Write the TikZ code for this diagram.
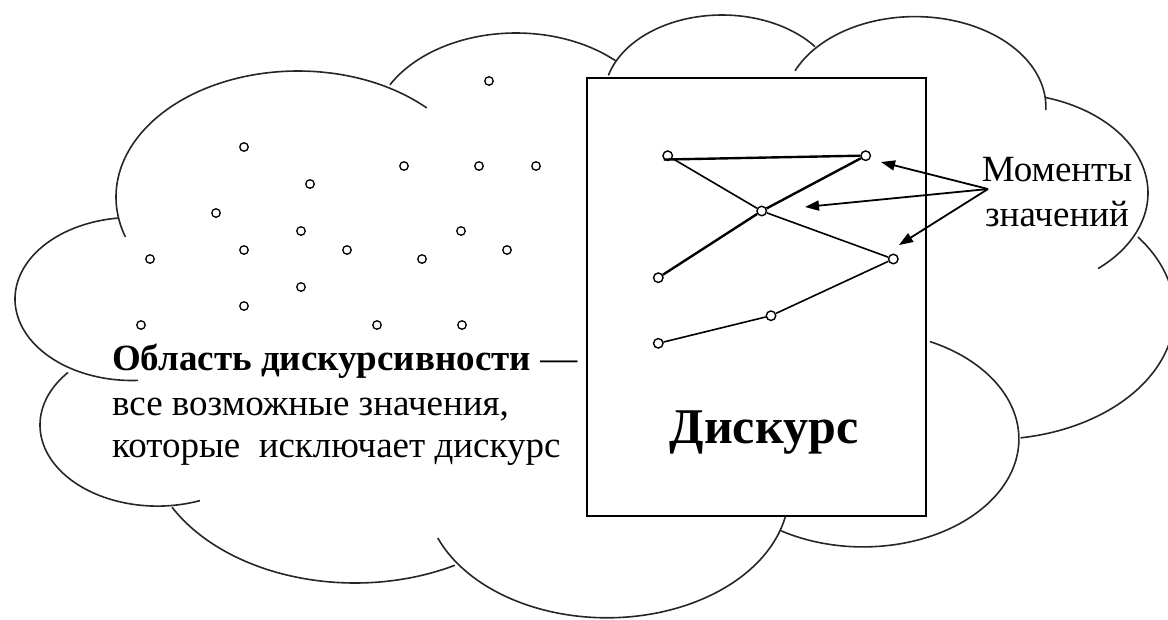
\documentclass[tikz,border=0pt]{standalone}
\usepackage{fontspec}
\setmainfont{Liberation Serif}
\usetikzlibrary{arrows.meta,calc}
\tikzset{
  cloudline/.style={line width=1.6pt, black!85},
  fdot/.style={circle, draw, line width=1.3pt, fill=white, inner sep=0pt, minimum size=8.5pt},
  ddot/.style={circle, draw, line width=1.4pt, fill=white, inner sep=0pt, minimum size=9.5pt},
  dline/.style={line width=1.6pt},
  thickdline/.style={line width=2.4pt},
  marrow/.style={line width=1.8pt, -{Triangle[length=14pt,width=10pt]}},
  lab/.style={inner sep=0pt, font=\fontsize{37}{42}\selectfont},
  discbox/.style={draw, fill=white, line width=2pt, inner sep=0pt},
}
\newcommand\cloudlobe[6]{%
  \draw[cloudline] plot[smooth, domain=#5:#6, samples=70, variable=\t] ({#1+#3*cos(\t)},{#2+#4*sin(\t)});
}
\begin{document}
\begin{tikzpicture}[x=1pt,y=-1pt]
\useasboundingbox (0,0) rectangle (1168,619);
% cloud lobes
\cloudlobe{298}{197}{182}{126}{161.5}{315}
\cloudlobe{516}{132.6}{143.7}{99.6}{208.7}{314.1}
\cloudlobe{722}{96.5}{117.6}{81.5}{195}{322.3}
\cloudlobe{915}{107}{130.9}{90.4}{203.6}{362}
\cloudlobe{1004.3}{193}{143.7}{99.7}{286.4}{409.3}
\cloudlobe{992}{313}{182.6}{126.4}{323}{441}
\cloudlobe{863}{439}{155.9}{107.9}{295.5}{481.7}
\cloudlobe{607}{491.5}{182}{126.3}{5}{158.4}
\cloudlobe{355}{438.5}{208}{144.5}{61.3}{151.6}
\cloudlobe{157.5}{425}{117.5}{81.1}{68.8}{220.4}
\cloudlobe{132.1}{299}{117.1}{81.5}{87}{263}
% field dots
\foreach \x/\y [count=\i] in {489/81,244/147,404/166,479/166,536/166,310/184,216/213,301/231,461/231,244/250,347/250,422/259,507/250,150/259,301/287,244/306,141/325,377/325,462/325}
  \node[fdot] (f\i) at (\x,\y) {};
% discourse box
\node[discbox, minimum width=339pt, minimum height=438pt] (disc) at (756.5,297) {};
\node[anchor=base, inner sep=0pt, font=\bfseries\fontsize{50}{60}\selectfont] (dk) at (764,443) {Дискурс};
% discourse path
\node[ddot] (d1) at (667.7,155.7) {};
\node[ddot] (d2) at (865.7,155.7) {};
\node[ddot] (d3) at (761.7,211) {};
\node[ddot] (d4) at (658.3,277.7) {};
\node[ddot] (d5) at (893.3,259) {};
\node[ddot] (d6) at (771,315.7) {};
\node[ddot] (d7) at (658.3,343.3) {};
\draw[thickdline] (d1.south west) -- (d2.west);
\draw[dline] (d1) -- (d3);
\draw[dline] (d3) -- (d5);
\draw[thickdline] (d2) -- (d3);
\draw[thickdline] (d3) -- (d4);
\draw[dline] (d5) -- (d6);
\draw[dline] (d6) -- (d7);
% labels right
\node[lab, anchor=base] (mo1) at (1057,181.7) {Моменты};
\node[lab, anchor=base] (mo2) at (1057,226.7) {значений};
\coordinate (src) at (988,189);
\coordinate (t1) at (881,162);
\coordinate (t2) at (805,207);
\coordinate (t3) at (899,245);
\draw[marrow] (src) -- (t1);
\draw[marrow] (src) -- (t2);
\draw[marrow] (src) -- (t3);
% left text
\node[lab, anchor=base west] (l1) at (112,370.5) {\bfseries Область дискурсивности \mdseries—};
\node[lab, anchor=base west] (l2) at (112,415) {все возможные значения,};
\node[lab, anchor=base west] (l3) at (112,457) {которые\ \ исключает дискурс};
\end{tikzpicture}
\end{document}
